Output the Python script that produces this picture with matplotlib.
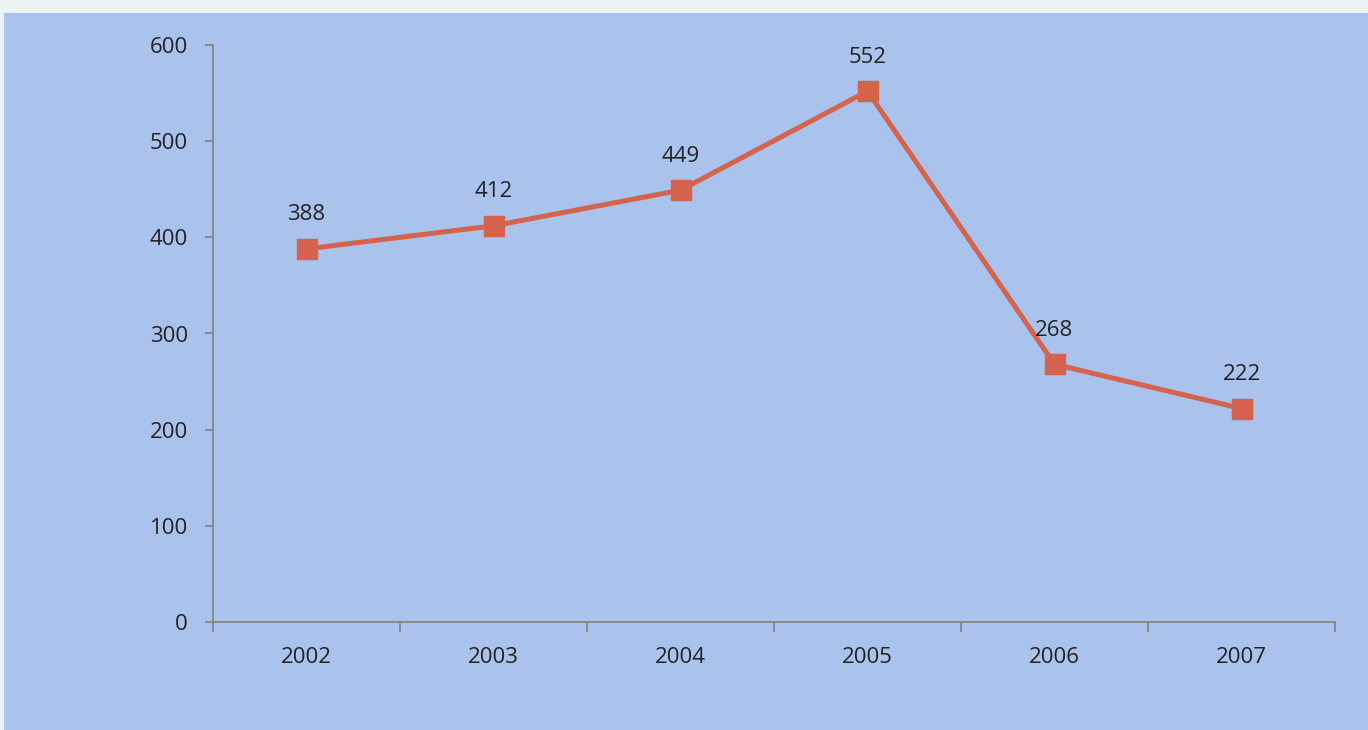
import matplotlib
matplotlib.use("Agg")
import matplotlib.pyplot as plt
from matplotlib.patches import Rectangle

years = ["2002", "2003", "2004", "2005", "2006", "2007"]
values = [388, 412, 449, 552, 268, 222]
yticks = [0, 100, 200, 300, 400, 500, 600]

plt.rcParams['font.family'] = ['Open Sans', 'DejaVu Sans']

fig = plt.figure(figsize=(13.68, 7.30), dpi=100)
fig.patch.set_facecolor('#eef2f4')
fig.patches.append(Rectangle((4/1368, 0), 1 - 4/1368, 717/730, transform=fig.transFigure,
                             facecolor='#a9c3ec', edgecolor='none', zorder=-5))

ax = fig.add_axes([213/1368, 1 - 622/730, (1335 - 213)/1368, (622 - 45)/730])
ax.set_zorder(2)
ax.set_facecolor('none')

x = list(range(len(years)))
ax.plot(x, values, color='#d5634d', linewidth=3.6, marker='s', markersize=14,
        markerfacecolor='#d5634d', markeredgecolor='#d5634d', zorder=3)
for xi, v in zip(x, values):
    ax.annotate(str(v), (xi, v), xytext=(0, 17), textcoords='offset points',
                ha='center', va='bottom', fontsize=16, color='#222222')

ax.set_xlim(-0.5, len(years) - 0.5)
ax.set_ylim(0, 600)
ax.set_yticks(yticks)
ax.set_yticklabels([str(t) for t in yticks], fontsize=16, color='#222222')
ax.set_xticks(x)
ax.set_xticklabels(years, fontsize=16, color='#222222')
ax.set_xticks([i - 0.5 for i in range(len(years) + 1)], minor=True)

for s in ['top', 'right']:
    ax.spines[s].set_visible(False)
for s in ['left', 'bottom']:
    ax.spines[s].set_color('#808080')
    ax.spines[s].set_linewidth(1.2)

ax.tick_params(axis='y', length=6, width=1.2, color='#808080', pad=12)
ax.tick_params(axis='x', which='major', length=0, pad=18)
ax.tick_params(axis='x', which='minor', length=7, width=1.2, color='#808080')

fig.savefig('out.png', dpi=100, facecolor=fig.get_facecolor())
